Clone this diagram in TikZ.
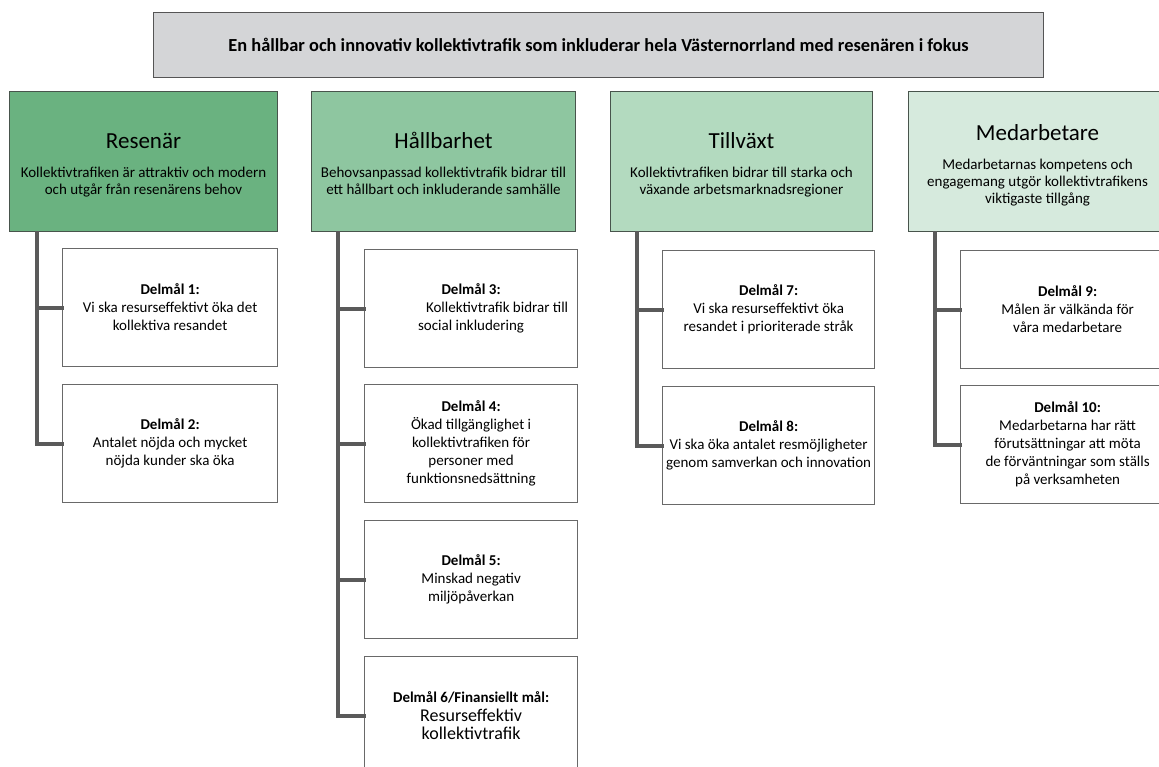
\documentclass[tikz,border=0pt]{standalone}
\usepackage{fontspec}
\setmainfont{Carlito}
\definecolor{topfill}{RGB}{212,213,215}
\definecolor{topline}{RGB}{85,85,85}
\definecolor{cR}{RGB}{106,178,128}
\definecolor{cH}{RGB}{142,198,160}
\definecolor{cT}{RGB}{179,218,191}
\definecolor{cM}{RGB}{214,234,221}
\definecolor{hdrline}{RGB}{72,84,76}
\definecolor{boxline}{RGB}{105,105,105}
\definecolor{connc}{RGB}{90,90,90}
\tikzset{
  topbox/.style={draw=topline, fill=topfill, line width=1pt, inner sep=0pt, anchor=north west,
    minimum width=890pt, minimum height=65pt, font=\bfseries\fontsize{18.4}{22}\selectfont},
  hdr/.style={draw=hdrline, line width=1pt, inner sep=0pt, anchor=north west,
    minimum height=140pt},
  hdrtext/.style={inner sep=0pt, align=center, font=\fontsize{15}{17}\selectfont},
  dm/.style={draw=boxline, fill=white, line width=1.2pt, inner sep=0pt, anchor=north west,
    minimum height=118pt, align=center, font=\fontsize{15}{18}\selectfont},
  conn/.style={draw=connc, line width=4pt, line cap=rect, line join=miter}
}
\newcommand{\hdtxt}[1]{{\fontsize{23}{26}\selectfont\vphantom{Hå}#1}}
\newcommand{\lastln}[1]{\vphantom{g}#1}
\begin{document}
\begin{tikzpicture}[x=1pt,y=-1pt]
\useasboundingbox (0,0) rectangle (1159,767);
\clip (0,0) rectangle (1159,767);
\fill[white] (0,0) rectangle (1159,767);

\node[topbox] (top) at (153,12) {En hållbar och innovativ kollektivtrafik som inkluderar hela Västernorrland med resenären i fokus};

% headers
\node[hdr, fill=cR, minimum width=268pt] (hR) at (9,91) {};
\node[hdr, fill=cH, minimum width=264pt] (hH) at (311,91) {};
\node[hdr, fill=cT, minimum width=262pt] (hT) at (610,91) {};
\node[hdr, fill=cM, minimum width=258pt] (hM) at (908,91) {};
\node[hdrtext] (lR) at ([yshift=-3pt]hR.center)
  {\hdtxt{Resenär}\\[12pt]Kollektivtrafiken är attraktiv och modern\\\lastln{och utgår från resenärens behov}};
\node[hdrtext] (lH) at ([yshift=-3pt]hH.center)
  {\hdtxt{Hållbarhet}\\[12pt]Behovsanpassad kollektivtrafik bidrar till\\\lastln{ett hållbart och inkluderande samhälle}};
\node[hdrtext] (lT) at ([yshift=-3pt]hT.center)
  {\hdtxt{Tillväxt}\\[12pt]Kollektivtrafiken bidrar till starka och\\\lastln{växande arbetsmarknadsregioner}};
\node[hdrtext] (lM) at ([yshift=-4pt]hM.center)
  {\hdtxt{Medarbetare}\\[12pt]Medarbetarnas kompetens och\\engagemang utgör kollektivtrafikens\\\lastln{viktigaste tillgång}};

% column 1
\node[dm, minimum width=215pt] (d1) at (62,248)
  {\textbf{Delmål 1:}\\Vi ska resurseffektivt öka det\\kollektiva resandet};
\node[dm, minimum width=215pt] (d2) at (62,384)
  {\textbf{Delmål 2:}\\Antalet nöjda och mycket\\nöjda kunder ska öka};
% column 2
\node[dm, minimum width=213pt] (d3) at (364,249)
  {\textbf{Delmål 3:}\\\hspace*{52pt}Kollektivtrafik bidrar till\\social inkludering};
\node[dm, minimum width=213pt] (d4) at (364,384)
  {\textbf{Delmål 4:}\\Ökad tillgänglighet i\\kollektivtrafiken för\\personer med\\funktionsnedsättning};
\node[dm, minimum width=213pt] (d5) at (364,520)
  {\textbf{Delmål 5:}\\Minskad negativ\\miljöpåverkan};
\node[dm, minimum width=213pt] (d6) at (364,656)
  {\textbf{Delmål 6/Finansiellt mål:}\\[1pt]{\fontsize{18}{20}\selectfont Resurseffektiv}\\{\fontsize{18}{20}\selectfont kollektivtrafik}};
% column 3
\node[dm, minimum width=212pt] (d7) at (662,250)
  {\textbf{Delmål 7:}\\Vi ska resurseffektivt öka\\resandet i prioriterade stråk};
\node[dm, minimum width=212pt] (d8) at (662,386)
  {\textbf{Delmål 8:}\\Vi ska öka antalet resmöjligheter\\genom samverkan och innovation};
% column 4
\node[dm, minimum width=214pt] (d9) at (960,250)
  {\textbf{Delmål 9:}\\Målen är välkända för\\våra medarbetare};
\node[dm, minimum width=214pt] (d10) at (960,385)
  {\textbf{Delmål 10:}\\Medarbetarna har rätt\\förutsättningar att möta\\de förväntningar som ställs\\på verksamheten};

% trunk start points
\coordinate (tR) at (37,233);
\coordinate (tH) at (338,233);
\coordinate (tT) at (637,233);
\coordinate (tM) at (935,233);

\draw[conn] (tR) |- (d2.west);
\draw[conn] (tR) |- (d1.west);
\draw[conn] (tH) |- (d6.west);
\draw[conn] (tH) |- (d3.west);
\draw[conn] (tH) |- (d4.west);
\draw[conn] (tH) |- (d5.west);
\draw[conn] (tT) |- (d8.west);
\draw[conn] (tT) |- (d7.west);
\draw[conn] (tM) |- (d10.west);
\draw[conn] (tM) |- (d9.west);
\end{tikzpicture}
\end{document}
